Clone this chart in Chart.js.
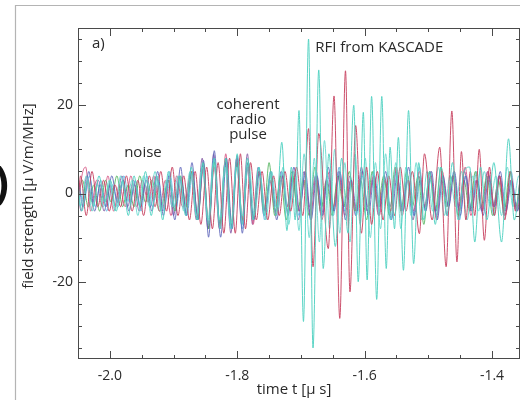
<!DOCTYPE html>
<html>
<head>
<meta charset="utf-8">
<script src="https://cdn.jsdelivr.net/npm/chart.js@4.4.1/dist/chart.umd.min.js"></script>
<style>
  html, body { margin: 0; padding: 0; background: #fff; }
  #wrap { width: 520px; height: 400px; position: relative; }
</style>
</head>
<body>
<div id="wrap"><canvas id="c" width="520" height="400"></canvas></div>
<script>
// Field strength traces of several antennas, [time in µs, field strength in µV/m/MHz]
// listed at the turning points of each oscillation.
const traceA = [
  [-2.050, 2], [-2.044, -4], [-2.035, 3], [-2.026, -3], [-2.017, 4], [-2.008, -2], [-1.999, 3], [-1.990, -4],
  [-1.980, 3], [-1.971, -5], [-1.962, 4], [-1.953, -3], [-1.944, 5], [-1.935, -5], [-1.926, 4], [-1.917, -6],
  [-1.908, 5], [-1.899, -3], [-1.890, 4], [-1.881, -5], [-1.872, 6], [-1.863, -6], [-1.854, 7], [-1.845, -7],
  [-1.836, 8], [-1.827, -8], [-1.818, 8], [-1.809, -8], [-1.800, 9], [-1.792, -7], [-1.784, 8], [-1.775, -6],
  [-1.766, 6], [-1.757, -5], [-1.748, 5], [-1.739, -5], [-1.730, 11.6], [-1.722, -8.4], [-1.715, 6], [-1.709, -6],
  [-1.703, 18.8], [-1.696, -29], [-1.688, 35], [-1.681, -35], [-1.672, 28], [-1.665, -17], [-1.656, 9], [-1.646, -12],
  [-1.636, 8], [-1.626, -9], [-1.617, 20], [-1.610, -20], [-1.602, 18.4], [-1.596, -19.6], [-1.589, 22], [-1.581, -24],
  [-1.573, 22], [-1.566, -17], [-1.560, 10.5], [-1.553, -8], [-1.547, 12.7], [-1.539, -17.4], [-1.531, 18.8], [-1.523, -15.9],
  [-1.515, 7], [-1.507, -6], [-1.498, 5], [-1.489, -7], [-1.480, 6], [-1.471, -5], [-1.462, 7], [-1.453, -6],
  [-1.444, 5], [-1.435, 6], [-1.427, -11], [-1.418, 6], [-1.408, -6], [-1.397, 7], [-1.385, -11], [-1.374, 12.4],
  [-1.365, -6], [-1.356, 3]
];
const traceB = [
  [-2.050, -3], [-2.046, 4], [-2.037, -5], [-2.028, 5], [-2.019, -3], [-2.010, 3], [-2.001, -4], [-1.992, 2],
  [-1.983, -3], [-1.974, 4], [-1.965, -4], [-1.956, 3], [-1.947, -5], [-1.938, 4], [-1.929, -3], [-1.920, 5],
  [-1.911, -4], [-1.902, 6], [-1.893, -5], [-1.884, 4], [-1.875, -6], [-1.866, 5], [-1.857, -7], [-1.848, 6],
  [-1.839, -8], [-1.830, 7], [-1.821, -9], [-1.812, 8], [-1.803, -9], [-1.795, 9], [-1.787, -8], [-1.779, 7],
  [-1.770, -6], [-1.761, 5], [-1.752, -6], [-1.743, 4], [-1.734, -5], [-1.725, 5], [-1.716, -4], [-1.707, 6],
  [-1.697, -5], [-1.688, 14.7], [-1.681, -16.6], [-1.672, 13.6], [-1.657, -12.5], [-1.648, 22.1], [-1.639, -28.3], [-1.630, 27.8],
  [-1.623, -22.3], [-1.614, 15.4], [-1.605, -9], [-1.597, 6], [-1.589, -7], [-1.580, 5], [-1.571, -6], [-1.562, 4],
  [-1.553, -5], [-1.544, 6], [-1.535, -4], [-1.525, 5], [-1.514, -9.1], [-1.506, 9], [-1.494, -6], [-1.482, 10.5],
  [-1.472, -16.6], [-1.463, 18.7], [-1.455, -15.5], [-1.448, 9.5], [-1.441, -6], [-1.434, 5], [-1.427, -5], [-1.420, 10],
  [-1.412, -10.6], [-1.404, 6], [-1.396, -5], [-1.388, 4], [-1.380, -6], [-1.371, 5], [-1.363, -4], [-1.356, 3]
];
const traceC = [
  [-2.050, 4], [-2.042, -3], [-2.033, 5], [-2.024, -4], [-2.015, 2], [-2.006, -3], [-1.997, 4], [-1.988, -2],
  [-1.979, 3], [-1.970, -4], [-1.961, 2], [-1.952, -3], [-1.943, 3], [-1.934, -4], [-1.925, 5], [-1.916, -5],
  [-1.907, 4], [-1.898, -6], [-1.889, 6], [-1.880, -5], [-1.871, 7], [-1.862, -6], [-1.853, 7.5], [-1.845, -9.9],
  [-1.836, 9.7], [-1.826, -9.9], [-1.817, 8], [-1.808, -8], [-1.800, 8.6], [-1.792, -9], [-1.783, 7], [-1.774, -6],
  [-1.765, 5], [-1.756, -4], [-1.747, 5], [-1.738, -6], [-1.729, 4], [-1.720, -5], [-1.711, 6], [-1.702, -4],
  [-1.693, 5], [-1.684, -6], [-1.675, 4], [-1.666, -5], [-1.657, 6], [-1.648, -4], [-1.639, 5], [-1.630, -6],
  [-1.621, 3], [-1.612, -4], [-1.603, 5], [-1.594, -5], [-1.585, 4], [-1.576, -3], [-1.567, 5], [-1.558, -6],
  [-1.549, 4], [-1.540, -4], [-1.531, 6], [-1.522, -5], [-1.513, 3], [-1.504, -4], [-1.495, 5], [-1.486, -6],
  [-1.477, 4], [-1.468, -3], [-1.459, 5], [-1.450, -5], [-1.441, 4], [-1.432, -4], [-1.423, 3], [-1.414, -5],
  [-1.405, 4], [-1.396, -3], [-1.387, 5], [-1.378, -4], [-1.369, 3], [-1.360, -4], [-1.356, -2]
];
const traceD = [
  [-2.050, 1], [-2.045, -4], [-2.036, 4], [-2.027, -2], [-2.018, 3], [-2.009, -4], [-2.000, 2], [-1.991, -3],
  [-1.981, 4], [-1.972, -3], [-1.963, 3], [-1.954, -4], [-1.945, 2], [-1.936, -3], [-1.927, 4], [-1.918, -4],
  [-1.909, 3], [-1.900, -5], [-1.891, 4], [-1.882, -4], [-1.873, 5], [-1.864, -6], [-1.855, 8], [-1.846, -8],
  [-1.837, 9], [-1.828, -8], [-1.819, 7], [-1.810, -9], [-1.801, 8], [-1.793, -7], [-1.784, 9], [-1.776, -7],
  [-1.767, 6], [-1.758, -5], [-1.749, 3], [-1.740, -4], [-1.731, 5], [-1.722, -3], [-1.713, 4], [-1.704, -6],
  [-1.695, 5], [-1.686, -3], [-1.677, 4], [-1.668, -5], [-1.659, 3], [-1.650, -4], [-1.641, 5], [-1.632, -3],
  [-1.623, 4], [-1.614, -5], [-1.605, 6], [-1.596, -4], [-1.587, 3], [-1.578, -5], [-1.569, 4], [-1.560, -3],
  [-1.551, 5], [-1.542, -4], [-1.533, 3], [-1.524, -6], [-1.515, 4], [-1.506, -3], [-1.497, 5], [-1.488, -4],
  [-1.479, 3], [-1.470, -5], [-1.461, 4], [-1.452, -3], [-1.443, 5], [-1.434, -4], [-1.425, 3], [-1.416, -4],
  [-1.407, 5], [-1.398, -3], [-1.389, 4], [-1.380, -5], [-1.371, 3], [-1.362, -4], [-1.356, 1]
];
const traceE = [
  [-2.050, -1], [-2.043, 3], [-2.034, -3], [-2.025, 2], [-2.016, -4], [-2.007, 3], [-1.998, -2], [-1.989, 4],
  [-1.980, -3], [-1.971, 2], [-1.962, -3], [-1.953, 4], [-1.944, -2], [-1.934, 3], [-1.922, -4], [-1.907, 3],
  [-1.898, -4], [-1.889, 4], [-1.880, -3], [-1.871, 5], [-1.862, -6], [-1.853, 7], [-1.845, -8], [-1.836, 7],
  [-1.827, -7], [-1.818, 8], [-1.809, -7], [-1.800, 7], [-1.792, -6], [-1.783, 7], [-1.775, -6], [-1.766, 5],
  [-1.758, -4], [-1.750, 7], [-1.741, -5], [-1.732, 4], [-1.723, -6], [-1.714, 5], [-1.705, -4], [-1.696, 3],
  [-1.687, -5], [-1.678, 6], [-1.669, -4], [-1.660, 3], [-1.651, -5], [-1.642, 4], [-1.633, -3], [-1.624, 5],
  [-1.615, -4], [-1.606, 3], [-1.597, -6], [-1.588, 5], [-1.579, -3], [-1.570, 4], [-1.561, -5], [-1.552, 6],
  [-1.543, -4], [-1.534, 5], [-1.525, -3], [-1.516, 4], [-1.507, -7], [-1.498, 5], [-1.489, -4], [-1.480, 6],
  [-1.471, -3], [-1.462, 4], [-1.453, -5], [-1.444, 3], [-1.435, -4], [-1.426, 5], [-1.417, -3], [-1.408, 4],
  [-1.399, -5], [-1.390, 3], [-1.381, -4], [-1.372, 5], [-1.363, -3], [-1.356, 2]
];
const traceF = [
  [-2.050, 3], [-2.041, -2], [-2.032, 4], [-2.023, -3], [-2.014, 3], [-2.005, -4], [-1.996, 2], [-1.987, -3],
  [-1.978, 4], [-1.969, -2], [-1.960, 3], [-1.951, -4], [-1.942, 4], [-1.933, -3], [-1.924, 3], [-1.915, -4],
  [-1.906, 5], [-1.897, -4], [-1.888, 3], [-1.879, -5], [-1.870, 5], [-1.862, -6], [-1.854, 6], [-1.845, -7],
  [-1.837, 8], [-1.828, -7], [-1.819, 7], [-1.810, -8], [-1.801, 7], [-1.792, -8], [-1.784, 6], [-1.775, -5],
  [-1.766, 6], [-1.757, -6], [-1.748, 4], [-1.739, -3], [-1.730, 5], [-1.721, -4], [-1.712, 3], [-1.703, -5],
  [-1.694, 4], [-1.685, -6], [-1.676, 5], [-1.667, -3], [-1.658, 4], [-1.649, -5], [-1.640, 6], [-1.631, -4],
  [-1.622, 3], [-1.613, -5], [-1.604, 4], [-1.595, -3], [-1.586, 5], [-1.577, -4], [-1.568, 3], [-1.559, -6],
  [-1.550, 5], [-1.541, -3], [-1.532, 4], [-1.523, -5], [-1.514, 6], [-1.505, -4], [-1.496, 3], [-1.487, -5],
  [-1.478, 4], [-1.469, -3], [-1.460, 5], [-1.451, -6], [-1.442, 4], [-1.433, -3], [-1.424, 5], [-1.415, -4],
  [-1.406, 3], [-1.397, -5], [-1.388, 4], [-1.379, -3], [-1.370, 5], [-1.361, -4], [-1.356, 0]
];
const traceG = [
  [-2.050, -5], [-2.045, 3], [-2.038, 6], [-2.030, -4], [-2.021, 3], [-2.012, -3], [-2.003, 4], [-1.994, -4],
  [-1.985, 2], [-1.976, -3], [-1.967, 4], [-1.958, -3], [-1.949, 3], [-1.940, -2], [-1.931, 4], [-1.922, -4],
  [-1.913, 3], [-1.904, -5], [-1.895, 4], [-1.886, -3], [-1.871, 5], [-1.862, -5], [-1.853, 6], [-1.845, -7],
  [-1.836, 6], [-1.827, -8], [-1.818, 9], [-1.809, -7], [-1.800, 8], [-1.792, -6], [-1.783, 6], [-1.775, -7],
  [-1.766, 5], [-1.757, -4], [-1.748, 3], [-1.739, -5], [-1.730, 4], [-1.721, -3], [-1.712, 5], [-1.703, -4],
  [-1.694, 3], [-1.685, -5], [-1.676, 4], [-1.667, -6], [-1.658, 5], [-1.649, -3], [-1.640, 4], [-1.631, -5],
  [-1.622, 3], [-1.613, -4], [-1.604, 5], [-1.595, -3], [-1.586, 4], [-1.577, -5], [-1.568, 3], [-1.559, -4],
  [-1.550, 6], [-1.541, -5], [-1.532, 3], [-1.523, -4], [-1.514, 5], [-1.505, -3], [-1.496, 4], [-1.487, -6],
  [-1.478, 5], [-1.469, -3], [-1.460, 4], [-1.451, -4], [-1.442, 6], [-1.433, -5], [-1.424, 3], [-1.415, -4],
  [-1.406, 5], [-1.397, -3], [-1.388, 4], [-1.379, -5], [-1.370, 3], [-1.361, -4], [-1.356, -1]
];
const traceH = [
  [-2.050, 0], [-2.046, -3], [-2.037, 4], [-2.028, -4], [-2.019, 2], [-2.010, -3], [-2.001, 3], [-1.992, -4],
  [-1.983, 4], [-1.974, -2], [-1.965, 3], [-1.956, -5], [-1.947, 4], [-1.938, -3], [-1.929, 5], [-1.920, -4],
  [-1.911, 3], [-1.902, -3], [-1.893, 4], [-1.884, -4], [-1.874, 5], [-1.864, -5], [-1.855, 6], [-1.846, -6],
  [-1.837, 7], [-1.828, -6], [-1.819, 6], [-1.810, -7], [-1.801, 6], [-1.792, -5], [-1.782, 7], [-1.773, -5],
  [-1.764, 4], [-1.755, -6], [-1.746, 5], [-1.737, -4], [-1.728, 6], [-1.719, -7], [-1.711, 5], [-1.703, -8.4],
  [-1.695, 9], [-1.687, -10], [-1.679, 8], [-1.671, -11], [-1.663, 12], [-1.655, -8], [-1.647, 10], [-1.639, -9],
  [-1.631, 7], [-1.623, -11], [-1.615, 9], [-1.607, -7], [-1.599, 8], [-1.591, -10], [-1.583, 7], [-1.575, -8],
  [-1.567, 9], [-1.559, -6], [-1.551, 7], [-1.543, -8], [-1.535, 6], [-1.527, -5], [-1.519, 7], [-1.511, -6],
  [-1.502, 5], [-1.493, -4], [-1.484, 6], [-1.475, -5], [-1.466, 4], [-1.457, -3], [-1.448, 5], [-1.439, -6],
  [-1.430, 4], [-1.421, -4], [-1.412, 5], [-1.403, -3], [-1.394, 4], [-1.385, -5], [-1.376, 6], [-1.367, -3],
  [-1.358, 4], [-1.356, 3]
];

// Axis ticks
const timeTicks = [-2.0, -1.8, -1.6, -1.4];
const fieldTicks = [-20, 0, 20];

const traces = [
  { data: traceA, color: 'rgba(82, 210, 194, 0.95)' },
  { data: traceB, color: 'rgba(200, 65, 95, 0.92)' },
  { data: traceH, color: 'rgba(106, 217, 207, 0.9)' },
  { data: traceC, color: 'rgba(90, 98, 184, 0.85)' },
  { data: traceG, color: 'rgba(212, 80, 127, 0.85)' },
  { data: traceE, color: 'rgba(77, 177, 88, 0.85)' },
  { data: traceF, color: 'rgba(91, 183, 230, 0.85)' },
  { data: traceD, color: 'rgba(124, 78, 158, 0.8)' }
];

const FONT = "'Open Sans', 'Noto Sans', sans-serif";
const INK = '#2a2a2a';

// Plot box, inward tick marks, labels and the figure frame
const decorations = {
  id: 'decorations',
  afterDraw(chart) {
    const { ctx, chartArea: a, scales: { x, y } } = chart;
    ctx.save();
    // outer figure frame
    ctx.strokeStyle = '#b4b4b4';
    ctx.lineWidth = 1.2;
    ctx.beginPath();
    ctx.moveTo(15.5, 400); ctx.lineTo(15.5, 5.5); ctx.lineTo(520, 5.5);
    ctx.stroke();

    // plot box
    ctx.strokeStyle = '#4a4a4a';
    ctx.lineWidth = 1;
    ctx.strokeRect(a.left + 0.5, a.top + 0.5, a.right - a.left - 1, a.bottom - a.top - 1);

    // tick marks on all four sides
    ctx.beginPath();
    for (let i = -41; i <= -27; i++) {
      const v = i * 0.05;
      const px = Math.round(x.getPixelForValue(v)) + 0.5;
      if (px <= a.left + 1 || px >= a.right - 1) continue;
      const major = timeTicks.some(t => Math.abs(t - v) < 1e-6);
      const len = major ? 8 : 4;
      ctx.moveTo(px, a.bottom); ctx.lineTo(px, a.bottom - len);
      ctx.moveTo(px, a.top); ctx.lineTo(px, a.top + len);
    }
    for (let v = -35; v <= 35; v += 5) {
      const py = Math.round(y.getPixelForValue(v)) + 0.5;
      const major = fieldTicks.includes(v);
      const len = major ? 8 : 4;
      ctx.moveTo(a.left, py); ctx.lineTo(a.left + len, py);
      ctx.moveTo(a.right, py); ctx.lineTo(a.right - len, py);
    }
    ctx.stroke();

    // annotations inside the plot
    ctx.fillStyle = INK;
    ctx.font = `15px ${FONT}`;
    ctx.textBaseline = 'middle';
    ctx.textAlign = 'left';
    ctx.fillText('a)', x.getPixelForValue(-2.028), y.getPixelForValue(33.9));
    ctx.textAlign = 'center';
    ctx.fillText('noise', x.getPixelForValue(-1.948), y.getPixelForValue(9.3));
    ctx.fillText('coherent', x.getPixelForValue(-1.783), y.getPixelForValue(20.1));
    ctx.fillText('radio', x.getPixelForValue(-1.783), y.getPixelForValue(16.7));
    ctx.fillText('pulse', x.getPixelForValue(-1.783), y.getPixelForValue(13.3));
    ctx.fillText('RFI from KASCADE', x.getPixelForValue(-1.577), y.getPixelForValue(33.0));

    // axis titles
    ctx.font = `15px ${FONT}`;
    ctx.fillText('time t [\u00b5 s]', 294, 390);
    ctx.save();
    ctx.translate(29, 196);
    ctx.rotate(-Math.PI / 2);
    ctx.fillText('field strength [\u00b5 V/m/MHz]', 0, 0);
    ctx.restore();

    // closing bracket of the neighbouring panel label
    ctx.fillStyle = '#111';
    ctx.font = `bold 44px ${FONT}`;
    ctx.textAlign = 'left';
    ctx.fillText(')', -6, 185);
    ctx.restore();
  }
};

new Chart(document.getElementById('c'), {
  type: 'line',
  data: {
    datasets: traces.map(t => ({
      data: t.data.map(([tx, fy]) => ({ x: tx, y: fy })),
      borderColor: t.color,
      borderWidth: 1,
      pointRadius: 0,
      fill: false,
      cubicInterpolationMode: 'monotone'
    }))
  },
  options: {
    responsive: false,
    animation: false,
    devicePixelRatio: 1,
    layout: { padding: { top: 28, right: 0, bottom: 0, left: 0 } },
    plugins: { legend: { display: false }, tooltip: { enabled: false } },
    scales: {
      x: {
        type: 'linear', min: -2.05, max: -1.356,
        grid: { display: false, drawTicks: false },
        border: { display: false },
        afterBuildTicks: s => { s.ticks = timeTicks.map(v => ({ value: v })); },
        afterFit: s => { s.height = 41; },
        ticks: {
          padding: 9, autoSkip: false, maxRotation: 0, color: INK,
          font: { family: FONT, size: 14 },
          callback: v => v.toFixed(1)
        }
      },
      y: {
        type: 'linear', min: -37.5, max: 37.5,
        grid: { display: false, drawTicks: false },
        border: { display: false },
        afterBuildTicks: s => { s.ticks = fieldTicks.map(v => ({ value: v })); },
        afterFit: s => { s.width = 78; },
        ticks: {
          padding: 5, color: INK,
          font: { family: FONT, size: 14 },
          callback: v => String(v)
        }
      }
    }
  },
  plugins: [decorations]
});
</script>
</body>
</html>
